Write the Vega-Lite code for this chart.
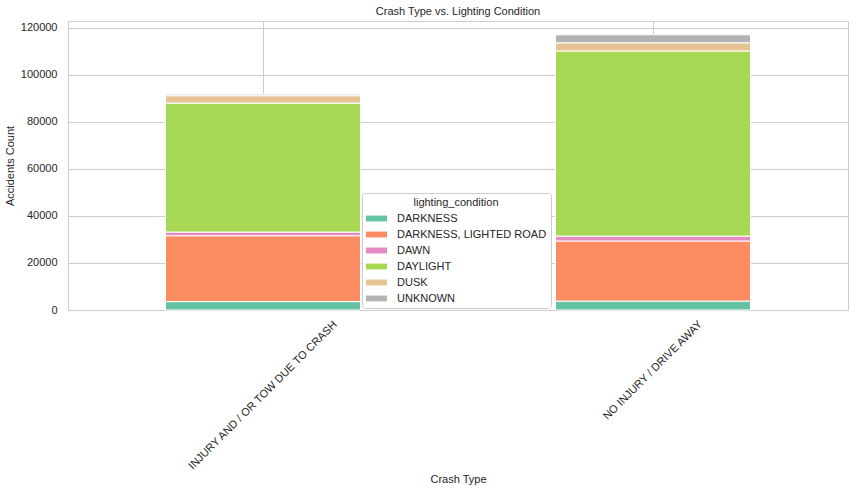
{
  "$schema": "https://vega.github.io/schema/vega-lite/v6.json",
  "autosize": {"type": "none"},
  "width": 780,
  "height": 289,
  "padding": {"left": 68, "top": 21, "right": 4, "bottom": 182},
  "background": "white",
  "title": {
    "text": "Crash Type vs. Lighting Condition",
    "fontSize": 11,
    "fontWeight": "normal",
    "font": "Liberation Sans",
    "color": "#262626",
    "offset": 4,
    "anchor": "middle"
  },
  "config": {
    "font": "Liberation Sans",
    "view": {"stroke": "#cccccc", "strokeWidth": 1},
    "axis": {
      "labelFont": "Liberation Sans",
      "titleFont": "Liberation Sans",
      "labelFontSize": 11,
      "titleFontSize": 11,
      "titleFontWeight": "normal",
      "labelColor": "#262626",
      "titleColor": "#262626",
      "gridColor": "#cccccc",
      "gridWidth": 1,
      "domain": false,
      "ticks": false,
      "tickSize": 0
    },
    "legend": {
      "labelFont": "Liberation Sans",
      "titleFont": "Liberation Sans"
    }
  },
  "data": {
    "values": [
      {"crash_type": "INJURY AND / OR TOW DUE TO CRASH", "lighting_condition": "DARKNESS", "count": 3570},
      {"crash_type": "INJURY AND / OR TOW DUE TO CRASH", "lighting_condition": "DARKNESS, LIGHTED ROAD", "count": 28000},
      {"crash_type": "INJURY AND / OR TOW DUE TO CRASH", "lighting_condition": "DAWN", "count": 1550},
      {"crash_type": "INJURY AND / OR TOW DUE TO CRASH", "lighting_condition": "DAYLIGHT", "count": 54800},
      {"crash_type": "INJURY AND / OR TOW DUE TO CRASH", "lighting_condition": "DUSK", "count": 3150},
      {"crash_type": "INJURY AND / OR TOW DUE TO CRASH", "lighting_condition": "UNKNOWN", "count": 650},
      {"crash_type": "NO INJURY / DRIVE AWAY", "lighting_condition": "DARKNESS", "count": 3780},
      {"crash_type": "NO INJURY / DRIVE AWAY", "lighting_condition": "DARKNESS, LIGHTED ROAD", "count": 25540},
      {"crash_type": "NO INJURY / DRIVE AWAY", "lighting_condition": "DAWN", "count": 2080},
      {"crash_type": "NO INJURY / DRIVE AWAY", "lighting_condition": "DAYLIGHT", "count": 78660},
      {"crash_type": "NO INJURY / DRIVE AWAY", "lighting_condition": "DUSK", "count": 3480},
      {"crash_type": "NO INJURY / DRIVE AWAY", "lighting_condition": "UNKNOWN", "count": 3400}
    ]
  },
  "mark": {"type": "bar", "stroke": "white", "strokeWidth": 1},
  "encoding": {
    "x": {
      "field": "crash_type",
      "type": "nominal",
      "title": "Crash Type",
      "scale": {"paddingInner": 0.5, "paddingOuter": 0.25},
      "axis": {
        "grid": true,
        "bandPosition": 0.5,
        "labelAngle": -45,
        "labelAlign": "center",
        "labelBaseline": "middle",
        "labelLimit": 0,
        "labelPadding": {"condition": {"test": "datum.value == 'NO INJURY / DRIVE AWAY'", "value": 60}, "value": 85},
        "titleY": 169,
        "titleBaseline": "middle"
      }
    },
    "y": {
      "field": "count",
      "type": "quantitative",
      "aggregate": "sum",
      "stack": "zero",
      "title": "Accidents Count",
      "scale": {"domain": [0, 122800], "nice": false, "zero": true},
      "axis": {
        "values": [0, 20000, 40000, 60000, 80000, 100000, 120000],
        "format": "d",
        "grid": true,
        "labelPadding": 11,
        "titlePadding": 5
      }
    },
    "color": {
      "field": "lighting_condition",
      "type": "nominal",
      "title": "lighting_condition",
      "scale": {
        "domain": ["DARKNESS", "DARKNESS, LIGHTED ROAD", "DAWN", "DAYLIGHT", "DUSK", "UNKNOWN"],
        "range": ["#66c2a5", "#fc8d62", "#e78ac3", "#a6d854", "#e5c494", "#b3b3b3"]
      },
      "legend": {
        "orient": "none",
        "legendX": 294,
        "legendY": 172,
        "titleFontSize": 11,
        "titleFontWeight": "normal",
        "titleColor": "#262626",
        "titleAnchor": "middle",
        "titlePadding": 0,
        "labelFontSize": 11,
        "labelColor": "#262626",
        "symbolType": "M-1,-0.28H1V0.28H-1Z",
        "symbolSize": 441,
        "symbolStrokeWidth": 0,
        "symbolOpacity": 1,
        "rowPadding": -0.6,
        "labelOffset": 10,
        "padding": 4,
        "strokeColor": "#cccccc",
        "fillColor": "white",
        "cornerRadius": 3
      }
    },
    "order": {"field": "lighting_condition", "sort": "ascending"}
  }
}
